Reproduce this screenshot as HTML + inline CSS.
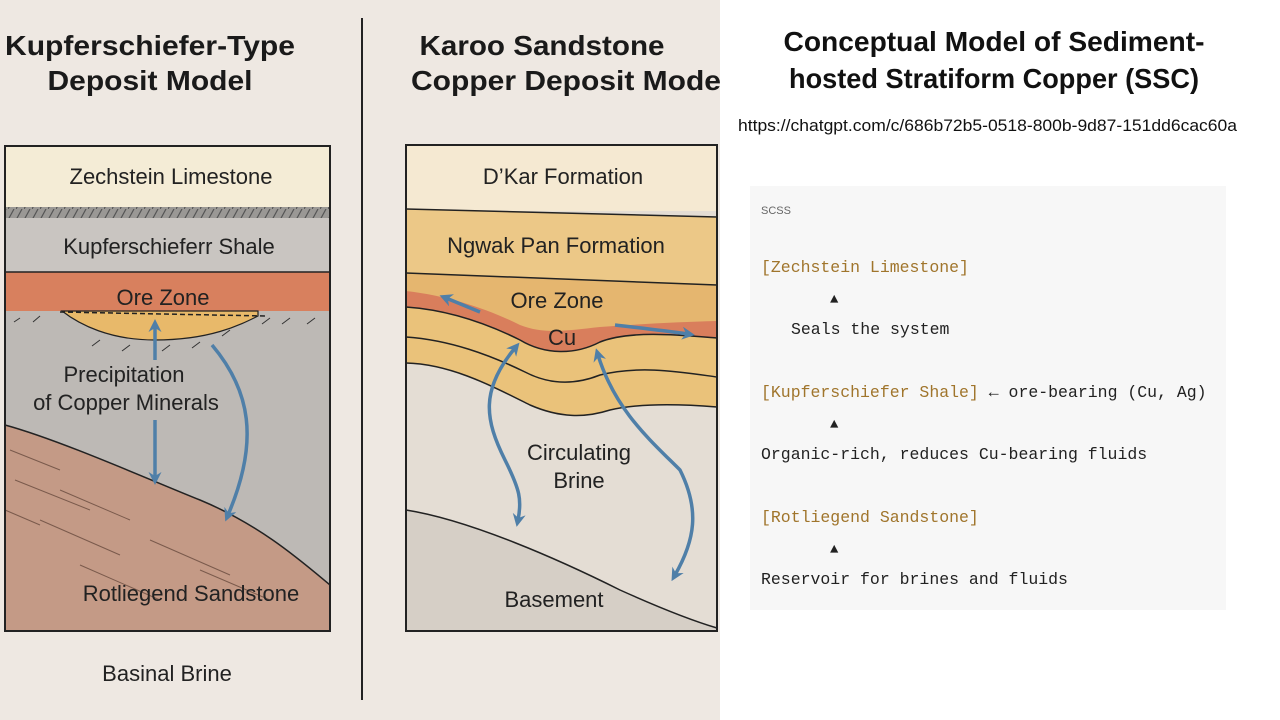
<!DOCTYPE html>
<html><head><meta charset="utf-8"><style>
body{margin:0;width:1280px;height:720px;overflow:hidden;background:#fff;font-family:"Liberation Sans",sans-serif}
svg{position:absolute;left:0;top:0}
.m{font-family:"Liberation Mono",monospace;font-size:16.5px}
</style></head><body>
<svg width="1280" height="720" viewBox="0 0 1280 720">
<defs>
<marker id="ah2" markerWidth="13" markerHeight="13" refX="6" refY="6.5" orient="auto-start-reverse" markerUnits="userSpaceOnUse"><path d="M0,0 L13,6.5 L0,13 L4,6.5 z" fill="#4f7fa8"/></marker>
<pattern id="hat" width="8" height="11" patternUnits="userSpaceOnUse"><rect width="8" height="11" fill="#9a9895"/><line x1="0" y1="11" x2="6" y2="0" stroke="#555" stroke-width="1.2"/></pattern>
</defs>
<rect x="0" y="0" width="720" height="720" fill="#eee8e2"/>
<line x1="362" y1="18" x2="362" y2="700" stroke="#222" stroke-width="2"/>
<g font-weight="bold" font-size="28" fill="#1a1a1a" text-anchor="middle">
<text x="150" y="55" textLength="290" lengthAdjust="spacingAndGlyphs">Kupferschiefer-Type</text>
<text x="150" y="90" textLength="205" lengthAdjust="spacingAndGlyphs">Deposit Model</text>
<text x="542" y="55" textLength="245" lengthAdjust="spacingAndGlyphs">Karoo Sandstone</text>
<text x="566" y="90" textLength="310" lengthAdjust="spacingAndGlyphs">Copper Deposit Mode</text>
</g>
<!-- left diagram -->
<rect x="5" y="146" width="325" height="485" fill="#bdb9b5"/>
<rect x="5" y="146" width="325" height="61" fill="#f4ecd6"/>
<rect x="5" y="207" width="325" height="11" fill="url(#hat)"/>
<rect x="5" y="218" width="325" height="54" fill="#c9c5c1"/>
<rect x="5" y="272" width="325" height="39" fill="#d8805e"/>
<line x1="5" y1="272" x2="330" y2="272" stroke="#222" stroke-width="1.5"/>
<path d="M62,311 C80,325 110,340 155,340 C210,340 240,325 258,316 L258,311 Z" fill="#e8b96a" stroke="#222" stroke-width="1.2"/>
<line x1="60" y1="312" x2="265" y2="316" stroke="#222" stroke-width="1.5" stroke-dasharray="5,3"/>
<path d="M5,425 C60,440 150,480 200,500 C260,525 300,560 330,585 L330,631 L5,631 Z" fill="#c49a86" stroke="#222" stroke-width="1.5"/>
<g stroke="#7a5a4c" stroke-width="1" fill="none">
<path d="M10,450 L60,470 M15,480 L90,510 M40,520 L120,555 M80,565 L160,600 M150,540 L230,575 M200,570 L270,600 M60,490 L130,520 M5,510 L40,525"/>
</g>
<g stroke="#333" stroke-width="1" fill="none">
<path d="M20,318 L14,322 M40,316 L33,322 M100,340 L92,346 M130,345 L122,351 M170,345 L162,351 M200,342 L192,348 M230,330 L222,336 M270,318 L262,324 M290,318 L282,324 M315,318 L307,324"/>
</g>
<rect x="5" y="146" width="325" height="485" fill="none" stroke="#222" stroke-width="2"/>
<g stroke="#4f7fa8" stroke-width="3.5" fill="none">
<line x1="155" y1="360" x2="155" y2="326" marker-end="url(#ah2)"/>
<line x1="155" y1="420" x2="155" y2="478" marker-end="url(#ah2)"/>
<path d="M212,345 C250,390 260,440 228,515" marker-end="url(#ah2)"/>
</g>
<g font-size="22" fill="#222" text-anchor="middle">
<text x="171" y="184">Zechstein Limestone</text>
<text x="169" y="254">Kupferschieferr Shale</text>
<text x="163" y="305">Ore Zone</text>
<text x="124" y="382">Precipitation</text>
<text x="126" y="410">of Copper Minerals</text>
<text x="191" y="601">Rotliegend Sandstone</text>
<text x="167" y="681">Basinal Brine</text>
</g>
<!-- right diagram -->
<rect x="406" y="145" width="311" height="486" fill="#e4ddd4"/>
<path d="M406,510 C470,520 560,560 620,590 C660,608 690,620 717,628 L717,631 L406,631 Z" fill="#d6cfc6" stroke="#222" stroke-width="1.5"/>
<rect x="406" y="145" width="311" height="66" fill="#f5e9d2"/>
<path d="M406,209 L717,217 L717,285 L406,273 Z" fill="#ecc887"/>
<!-- ore zone orange -->
<path d="M406,273 L717,285 L717,340 L406,340 Z" fill="#e5b66f"/>
<!-- yellow layers below line1 down to line3 -->
<path d="M406,307 C450,310 490,325 520,340 C545,355 575,355 600,342 C630,330 680,335 717,338 L717,407 C680,404 640,403 610,410 C585,418 560,418 530,405 C490,385 450,364 406,363 Z" fill="#eac27a"/>
<!-- red strip -->
<path d="M406,291 C450,296 490,310 520,325 C545,335 570,330 600,327 C640,324 680,322 717,321 L717,338 C680,335 630,330 600,342 C575,355 545,355 520,340 C490,325 450,310 406,307 Z" fill="#d97e5c"/>
<g stroke="#222" stroke-width="1.5" fill="none">
<path d="M406,209 L717,217"/>
<path d="M406,273 L717,285"/>
<path d="M406,307 C450,310 490,325 520,340 C545,355 575,355 600,342 C630,330 680,335 717,338"/>
<path d="M406,337 C450,340 490,355 525,372 C550,385 575,385 600,375 C640,365 680,372 717,377"/>
<path d="M406,363 C450,364 490,385 530,405 C560,418 585,418 610,410 C640,403 680,404 717,407"/>
</g>
<rect x="406" y="145" width="311" height="486" fill="none" stroke="#222" stroke-width="2"/>
<g stroke="#4f7fa8" stroke-width="3.5" fill="none">
<path d="M480,312 L446,298" marker-end="url(#ah2)"/>
<path d="M615,325 C640,328 660,330 688,334" marker-end="url(#ah2)"/>
<path d="M515,348 C480,390 485,420 505,460 C520,490 522,500 518,520" marker-start="url(#ah2)" marker-end="url(#ah2)"/>
<path d="M598,355 C615,410 650,440 680,470 C700,510 695,540 675,575" marker-start="url(#ah2)" marker-end="url(#ah2)"/>
</g>
<g font-size="22" fill="#222" text-anchor="middle">
<text x="563" y="184">D’Kar Formation</text>
<text x="556" y="253">Ngwak Pan Formation</text>
<text x="557" y="308">Ore Zone</text>
<text x="562" y="345">Cu</text>
<text x="579" y="460">Circulating</text>
<text x="579" y="488">Brine</text>
<text x="554" y="607">Basement</text>
</g>
<!-- right text panel -->
<g font-weight="bold" font-size="28" fill="#111" text-anchor="middle">
<text x="994" y="51" textLength="421" lengthAdjust="spacingAndGlyphs">Conceptual Model of Sediment-</text>
<text x="994" y="88" textLength="410" lengthAdjust="spacingAndGlyphs">hosted Stratiform Copper (SSC)</text>
</g>
<text x="738" y="131" font-size="16.5" fill="#111" textLength="499" lengthAdjust="spacingAndGlyphs">https://chatgpt.com/c/686b72b5-0518-800b-9d87-151dd6cac60a</text>
<rect x="750" y="186" width="476" height="424" fill="#f7f7f7"/>
<text x="761" y="214" font-size="11" fill="#666">SCSS</text>
<g class="m" fill="#222">
<text x="761" y="272" fill="#a0752c">[Zechstein Limestone]</text>
<text x="830" y="303" font-size="14">▲</text>
<text x="791" y="334">Seals the system</text>
<text x="761" y="397"><tspan fill="#a0752c">[Kupferschiefer Shale]</tspan> ← ore-bearing (Cu, Ag)</text>
<text x="830" y="428" font-size="14">▲</text>
<text x="761" y="459">Organic-rich, reduces Cu-bearing fluids</text>
<text x="761" y="522" fill="#a0752c">[Rotliegend Sandstone]</text>
<text x="830" y="553" font-size="14">▲</text>
<text x="761" y="584">Reservoir for brines and fluids</text>
</g>
</svg>
</body></html>
